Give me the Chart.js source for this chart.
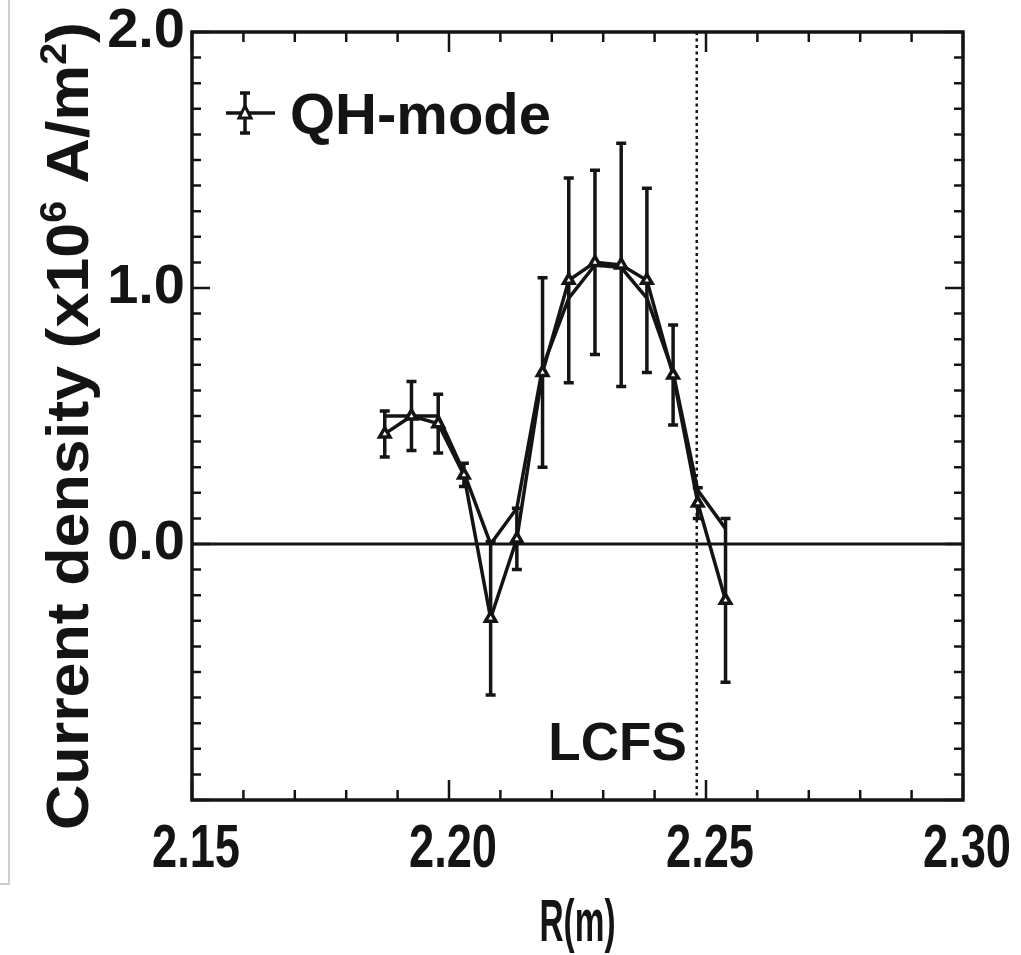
<!DOCTYPE html>
<html>
<head>
<meta charset="utf-8">
<script src="https://cdn.jsdelivr.net/npm/chart.js"></script>
<style>
  html, body { margin: 0; padding: 0; background: #fff; }
</style>
</head>
<body>
<canvas id="jChart" width="1021" height="955"></canvas>
<script>
// radius points (m) and current density (x10^6 A/m^2)
const radius = [2.1875, 2.1927, 2.1979, 2.2029, 2.2081, 2.2132, 2.2182, 2.2233, 2.2284, 2.2335, 2.2385, 2.2436, 2.2484, 2.2538];
const jQH = [0.43, 0.50, 0.47, 0.27, -0.29, 0.02, 0.67, 1.03, 1.10, 1.09, 1.03, 0.66, 0.16, -0.22];
const jQHErr = [0.09, 0.135, 0.115, 0.045, 0.30, 0.12, 0.37, 0.40, 0.36, 0.475, 0.36, 0.195, 0.06, 0.32];
const jFit = [0.50, 0.50, 0.50, 0.28, 0.00, 0.14, 0.69, 0.96, 1.09, 1.08, 0.96, 0.67, 0.21, 0.06];

const xTickLabels = ['2.15', '2.20', '2.25', '2.30'];
const yTickLabels = ['0.0', '1.0', '2.0'];
const lcfsR = 2.2482;
const lcfsLabelY = -0.77;

const INK = '#141414';
const SANS = '"Liberation Sans", Arial, sans-serif';

// draws text squeezed/stretched along its direction to look like the condensed original
function squeezed(ctx, parts, x, y, font, targetLen, opts = {}) {
  ctx.save();
  ctx.translate(x, y);
  if (opts.rotate) ctx.rotate(opts.rotate);
  const size = parseFloat(font.match(/(\d+)px/)[1]);
  const supFont = font.replace(/(\d+)px/, Math.round(size * 0.62) + 'px');
  let total = 0;
  parts.forEach(p => {
    ctx.font = p.sup ? supFont : font;
    p.w = ctx.measureText(p.t).width;
    total += p.w;
  });
  ctx.scale(targetLen / total, 1);
  let cx = opts.align === 'center' ? -total / 2 : 0;
  ctx.fillStyle = INK;
  ctx.textBaseline = 'alphabetic';
  ctx.textAlign = 'left';
  parts.forEach(p => {
    ctx.font = p.sup ? supFont : font;
    ctx.fillText(p.t, cx, p.sup ? -size * 0.38 : 0);
    cx += p.w;
  });
  ctx.restore();
}

const decorPlugin = {
  id: 'decor',
  beforeDatasetsDraw(chart) {
    const { ctx, chartArea: a, scales: { x, y } } = chart;
    ctx.save();
    ctx.strokeStyle = INK;
    ctx.lineWidth = 3;
    ctx.beginPath();
    ctx.moveTo(a.left, y.getPixelForValue(0));
    ctx.lineTo(a.right, y.getPixelForValue(0));
    ctx.stroke();
    // LCFS
    const lx = x.getPixelForValue(lcfsR);
    ctx.setLineDash([3, 3.5]);
    ctx.lineWidth = 2.5;
    ctx.beginPath();
    ctx.moveTo(lx, a.top);
    ctx.lineTo(lx, a.bottom);
    ctx.stroke();
    ctx.setLineDash([]);
    ctx.font = 'bold 53px ' + SANS;
    ctx.fillStyle = INK;
    ctx.textAlign = 'right';
    ctx.textBaseline = 'middle';
    ctx.fillText('LCFS', lx - 10, y.getPixelForValue(lcfsLabelY) + 4);
    // error bars
    ctx.lineWidth = 3.5;
    radius.forEach((r, i) => {
      const px = x.getPixelForValue(r);
      const y1 = y.getPixelForValue(jQH[i] + jQHErr[i]);
      const y2 = y.getPixelForValue(jQH[i] - jQHErr[i]);
      ctx.beginPath();
      ctx.moveTo(px, y1); ctx.lineTo(px, y2);
      ctx.moveTo(px - 5, y1); ctx.lineTo(px + 5, y1);
      ctx.moveTo(px - 5, y2); ctx.lineTo(px + 5, y2);
      ctx.stroke();
    });
    ctx.restore();
  },
  afterDraw(chart) {
    const { ctx, chartArea: a, scales: { x, y } } = chart;
    ctx.save();
    // scan edge
    ctx.strokeStyle = '#cfcfcf';
    ctx.lineWidth = 2;
    ctx.beginPath();
    ctx.moveTo(9, 0); ctx.lineTo(9, 884); ctx.lineTo(0, 884);
    ctx.stroke();
    // frame
    ctx.strokeStyle = INK;
    ctx.lineWidth = 3.5;
    ctx.strokeRect(a.left, a.top, a.right - a.left, a.bottom - a.top);
    ctx.lineWidth = 2.5;
    for (let k = 0; k <= 15; k++) {
      const px = x.getPixelForValue(2.15 + k * 0.01);
      const len = k % 5 === 0 ? 20 : 10;
      ctx.beginPath();
      ctx.moveTo(px, a.bottom); ctx.lineTo(px, a.bottom - len);
      ctx.moveTo(px, a.top); ctx.lineTo(px, a.top + len);
      ctx.stroke();
    }
    for (let k = 0; k <= 30; k++) {
      const py = y.getPixelForValue(-1 + k * 0.1);
      const len = k % 10 === 0 ? 18 : 9;
      ctx.beginPath();
      ctx.moveTo(a.left, py); ctx.lineTo(a.left + len, py);
      ctx.moveTo(a.right, py); ctx.lineTo(a.right - len, py);
      ctx.stroke();
    }
    // x tick labels (condensed bold)
    xTickLabels.forEach(t => {
      squeezed(ctx, [{ t }], x.getPixelForValue(parseFloat(t)) + 4, a.bottom + 67,
        'bold 62px ' + SANS, 88, { align: 'center' });
    });
    // axis titles
    squeezed(ctx, [{ t: 'R(m)' }], (a.left + a.right) / 2, 941, 'bold 60px ' + SANS, 76, { align: 'center' });
    squeezed(ctx, [
      { t: 'Current density (x10' }, { t: '6', sup: true }, { t: ' A/m' }, { t: '2', sup: true }, { t: ')' }
    ], 88, 830, 'bold 59px ' + SANS, 808, { rotate: -Math.PI / 2 });
    // legend
    const lx0 = a.left + 34, ly = a.top + 81, lmid = lx0 + 19;
    ctx.lineWidth = 3.5;
    ctx.beginPath();
    ctx.moveTo(lx0, ly); ctx.lineTo(lx0 + 49, ly);
    ctx.moveTo(lmid, ly - 20); ctx.lineTo(lmid, ly + 20);
    ctx.moveTo(lmid - 5, ly - 20); ctx.lineTo(lmid + 5, ly - 20);
    ctx.moveTo(lmid - 5, ly + 20); ctx.lineTo(lmid + 5, ly + 20);
    ctx.stroke();
    ctx.beginPath();
    ctx.moveTo(lmid, ly - 7); ctx.lineTo(lmid + 6, ly + 5); ctx.lineTo(lmid - 6, ly + 5);
    ctx.closePath();
    ctx.fillStyle = '#fff';
    ctx.fill();
    ctx.lineWidth = 3;
    ctx.stroke();
    ctx.fillStyle = INK;
    ctx.font = 'bold 58px ' + SANS;
    ctx.textAlign = 'left';
    ctx.textBaseline = 'middle';
    ctx.fillText('QH-mode', lx0 + 64, ly + 5);
    ctx.restore();
  }
};

new Chart(document.getElementById('jChart').getContext('2d'), {
  type: 'line',
  data: {
    datasets: [
      {
        label: 'QH-mode',
        data: radius.map((r, i) => ({ x: r, y: jQH[i] })),
        borderColor: INK,
        borderWidth: 3.5,
        pointStyle: 'triangle',
        pointRadius: 6,
        pointBackgroundColor: '#fff',
        pointBorderColor: INK,
        pointBorderWidth: 3.5,
        tension: 0
      },
      {
        label: 'fit',
        data: radius.map((r, i) => ({ x: r, y: jFit[i] })),
        borderColor: INK,
        borderWidth: 3.5,
        pointRadius: 0,
        tension: 0
      }
    ]
  },
  options: {
    responsive: false,
    animation: false,
    layout: { padding: { top: 32, right: 58, left: 0, bottom: 0 } },
    plugins: { legend: { display: false }, tooltip: { enabled: false } },
    scales: {
      x: {
        type: 'linear',
        min: 2.15,
        max: 2.30,
        afterFit: s => { s.height = 155; s.paddingLeft = 0; s.paddingRight = 0; },
        grid: { display: false, drawTicks: false },
        border: { display: false },
        ticks: { display: false }
      },
      y: {
        type: 'linear',
        min: -1,
        max: 2,
        afterFit: s => { s.width = 192; s.paddingTop = 0; s.paddingBottom = 0; },
        afterBuildTicks: s => {
          s.ticks = yTickLabels.map(t => ({ value: parseFloat(t) }));
        },
        grid: { display: false, drawTicks: false },
        border: { display: false },
        ticks: {
          autoSkip: false,
          padding: 7,
          color: INK,
          font: { family: SANS, size: 56, weight: 'bold' },
          callback: v => v.toFixed(1)
        }
      }
    }
  },
  plugins: [decorPlugin]
});
</script>
</body>
</html>
